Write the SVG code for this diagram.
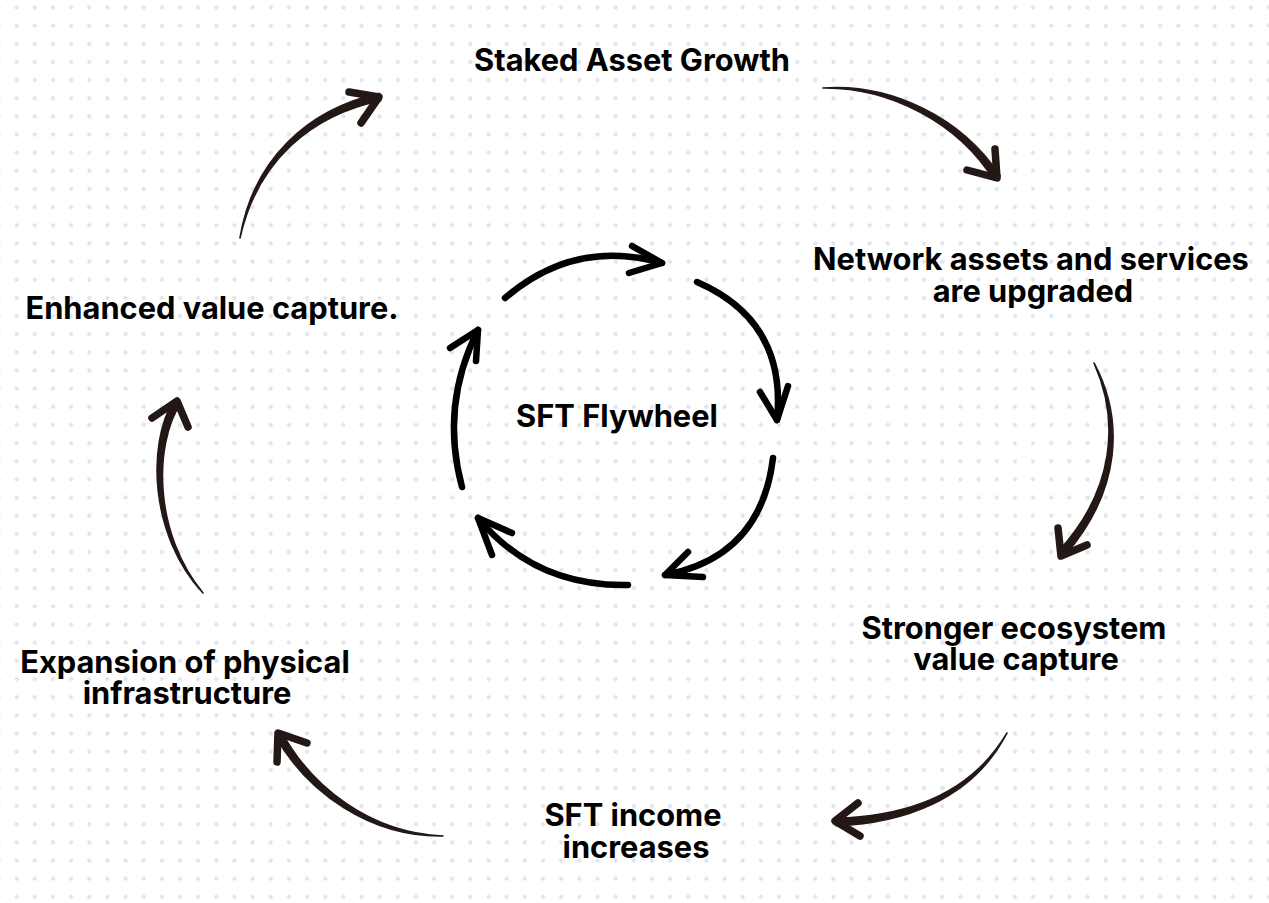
<svg xmlns="http://www.w3.org/2000/svg" width="1269" height="903" viewBox="0 0 1269 903">
  <defs>
    <pattern id="dots" patternUnits="userSpaceOnUse" x="7.6" y="-1.6" width="18.15" height="18.15">
      <circle cx="9.07" cy="9.07" r="2.1" fill="#e1e4ea"/>
    </pattern>
    <style>
      .lbl { font-family: Inter, "Liberation Sans", sans-serif; font-weight: 700; font-size: 30.8px; fill: #000; text-anchor: middle; }
      .brush { fill: #231815; stroke: #231815; stroke-width: 1.6; stroke-linejoin: round; }
      .barb { fill: none; stroke: #231815; stroke-width: 7.5; stroke-linecap: round; stroke-linejoin: round; }
      .ring { fill: none; stroke: #000; stroke-width: 6.5; stroke-linecap: round; stroke-linejoin: round; }
    </style>
  </defs>
  <rect width="1269" height="903" fill="#fff"/>
  <rect width="1269" height="903" fill="url(#dots)"/>

  <g id="connectors">
    <g id="arrow-1">
      <path class="brush" d="M240,238 C257.2,160.4 312.3,114.6 380.8,100.7 L379.2,93.3 C307.7,109.4 252.8,159.6 240,238 Z"/>
      <path class="barb" d="M349,92 L379,97 L361,123"/>
    </g>
    <g id="arrow-2">
      <path class="brush" d="M823,88 C890.1,87.2 958.4,123.1 993.8,180 L1000.2,176 C961.6,116.9 889.9,82.8 823,88 Z"/>
      <path class="barb" d="M995,149 L997,178 L967,170"/>
    </g>
    <g id="arrow-3">
      <path class="brush" d="M1094,363 C1119.9,420.8 1114.5,489.8 1059,550.7 L1065,555.3 C1121.5,490.3 1124.1,419.2 1094,363 Z"/>
      <path class="barb" d="M1058,528 L1061,556 L1087,545"/>
    </g>
    <g id="arrow-4">
      <path class="brush" d="M1007,733 C968.1,798.9 899,816.6 835.9,818.2 L836.1,825.8 C901,823.4 971.9,801.1 1007,733 Z"/>
      <path class="barb" d="M858,803 L835,821 L860,836"/>
    </g>
    <g id="arrow-5">
      <path class="brush" d="M443,836 C370,832.8 312.1,787.2 282.3,733.1 L275.7,736.9 C307.9,792.8 370,837.2 443,836 Z"/>
      <path class="barb" d="M307,743 L278,733 L277,762"/>
    </g>
    <g id="arrow-6">
      <path class="brush" d="M203,593 C153.7,533.6 153.5,444.8 180.5,403.6 L173.6,400.4 C146.5,445.2 150.3,536.4 203,593 Z"/>
      <path class="barb" d="M152,418 L177,401 L188,427"/>
    </g>

    <g id="ring-1">
      <path class="ring" d="M505,298 Q575,238 662,263"/>
      <path class="ring" d="M632,246 L662,263 L629,273"/>
    </g>
    <g id="ring-2">
      <path class="ring" d="M697,282 Q787,321 777,420"/>
      <path class="ring" d="M760,392 L777,420 L788,386"/>
    </g>
    <g id="ring-3">
      <path class="ring" d="M773,458 Q761,557 665,575"/>
      <path class="ring" d="M688,552 L665,575 L703,577"/>
    </g>
    <g id="ring-4">
      <path class="ring" d="M628,585 Q535,587 478,518"/>
      <path class="ring" d="M512,533 L478,518 L492,555"/>
    </g>
    <g id="ring-5">
      <path class="ring" d="M462,487 Q440,405.5 478,330"/>
      <path class="ring" d="M450,348 L478,330 L476,361"/>
    </g>
  </g>

  <g id="node-center"><text class="lbl" x="617" y="427">SFT Flywheel</text></g>
  <g id="node-staked"><text class="lbl" x="632" y="71">Staked Asset Growth</text></g>
  <g id="node-network"><text class="lbl" x="1031" y="270">Network assets and services</text><text class="lbl" x="1033" y="302">are upgraded</text></g>
  <g id="node-stronger"><text class="lbl" x="1014" y="639">Stronger ecosystem</text><text class="lbl" x="1016" y="670">value capture</text></g>
  <g id="node-income"><text class="lbl" x="633" y="826">SFT income</text><text class="lbl" x="636" y="858">increases</text></g>
  <g id="node-expansion"><text class="lbl" x="185" y="673">Expansion of physical</text><text class="lbl" x="187" y="704">infrastructure</text></g>
  <g id="node-enhanced"><text class="lbl" x="212" y="319">Enhanced value capture.</text></g>
</svg>
